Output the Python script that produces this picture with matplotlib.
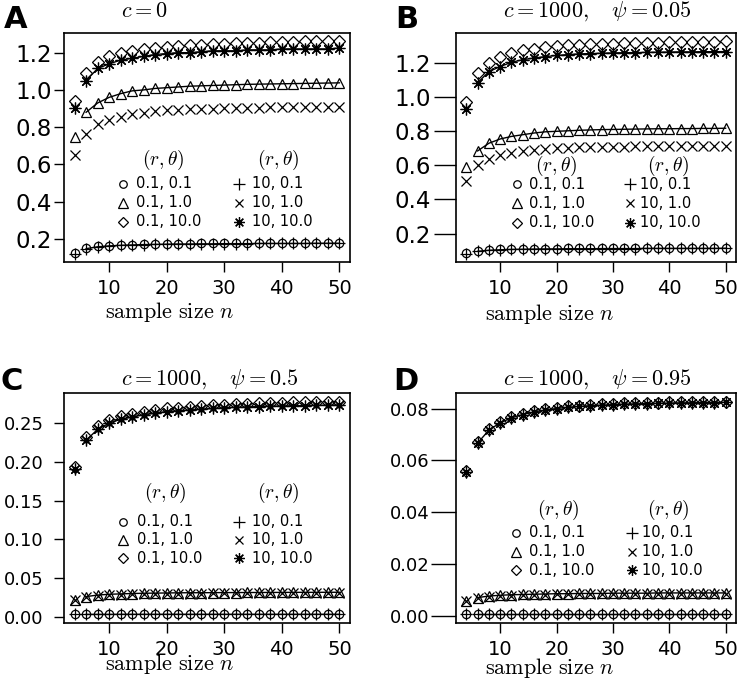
import matplotlib
matplotlib.use("Agg")
import matplotlib.pyplot as plt
import numpy as np

plt.rcParams['font.family'] = ['DejaVu Sans']
plt.rcParams['mathtext.fontset'] = 'cm'

# sample sizes
n = [4, 6, 8, 10, 12, 14, 16, 18, 20, 22, 24, 26, 28, 30, 32, 34, 36, 38, 40, 42, 44, 46, 48, 50]

# panel A  (c = 0)
a_circ = [0.125, 0.15, 0.16, 0.165, 0.168, 0.17, 0.172, 0.173, 0.174, 0.175, 0.175, 0.176,
          0.176, 0.177, 0.177, 0.177, 0.178, 0.178, 0.178, 0.178, 0.178, 0.179, 0.179, 0.179]
a_plus = [0.122, 0.148, 0.158, 0.163, 0.166, 0.168, 0.17, 0.171, 0.172, 0.173, 0.173, 0.174,
          0.174, 0.175, 0.175, 0.175, 0.176, 0.176, 0.176, 0.176, 0.176, 0.177, 0.177, 0.177]
a_tri = [0.75, 0.88, 0.93, 0.96, 0.98, 0.995, 1.0, 1.008, 1.012, 1.016, 1.02, 1.022,
         1.024, 1.026, 1.028, 1.03, 1.031, 1.032, 1.033, 1.034, 1.035, 1.036, 1.037, 1.038]
a_x = [0.65, 0.765, 0.815, 0.84, 0.857, 0.87, 0.878, 0.885, 0.89, 0.893, 0.896, 0.898,
       0.9, 0.902, 0.903, 0.904, 0.905, 0.906, 0.907, 0.908, 0.909, 0.91, 0.91, 0.911]
a_dia = [0.94, 1.09, 1.15, 1.18, 1.20, 1.21, 1.22, 1.225, 1.23, 1.235, 1.24, 1.24,
         1.245, 1.245, 1.25, 1.25, 1.25, 1.255, 1.255, 1.255, 1.26, 1.26, 1.26, 1.26]
a_star = [0.905, 1.05, 1.115, 1.14, 1.16, 1.17, 1.18, 1.19, 1.195, 1.20, 1.20, 1.205,
          1.21, 1.21, 1.21, 1.215, 1.215, 1.215, 1.22, 1.22, 1.22, 1.22, 1.22, 1.225]

# panel B  (c = 1000, psi = 0.05)
b_circ = [0.085, 0.098, 0.104, 0.107, 0.109, 0.11, 0.111, 0.112, 0.112, 0.113, 0.113, 0.113,
          0.114, 0.114, 0.114, 0.114, 0.115, 0.115, 0.115, 0.115, 0.115, 0.115, 0.115, 0.116]
b_plus = [0.083, 0.096, 0.102, 0.105, 0.107, 0.108, 0.109, 0.11, 0.11, 0.111, 0.111, 0.111,
          0.112, 0.112, 0.112, 0.112, 0.113, 0.113, 0.113, 0.113, 0.113, 0.113, 0.113, 0.114]
b_tri = [0.59, 0.685, 0.73, 0.755, 0.77, 0.78, 0.79, 0.797, 0.80, 0.803, 0.806, 0.808,
         0.81, 0.811, 0.812, 0.813, 0.814, 0.815, 0.815, 0.816, 0.816, 0.817, 0.817, 0.818]
b_x = [0.51, 0.605, 0.64, 0.66, 0.675, 0.685, 0.692, 0.697, 0.70, 0.703, 0.705, 0.707,
       0.708, 0.709, 0.71, 0.711, 0.712, 0.713, 0.713, 0.714, 0.714, 0.715, 0.715, 0.716]
b_dia = [0.97, 1.14, 1.20, 1.235, 1.26, 1.275, 1.285, 1.293, 1.30, 1.305, 1.308, 1.311,
         1.313, 1.315, 1.317, 1.319, 1.32, 1.321, 1.322, 1.323, 1.324, 1.325, 1.326, 1.327]
b_star = [0.93, 1.085, 1.15, 1.18, 1.205, 1.22, 1.23, 1.238, 1.245, 1.25, 1.254, 1.256,
          1.258, 1.26, 1.261, 1.262, 1.263, 1.264, 1.265, 1.266, 1.266, 1.267, 1.267, 1.268]

# panel C  (c = 1000, psi = 0.5)
c_circ = [0.0030, 0.0031, 0.0031, 0.0031, 0.0032, 0.0032, 0.0032, 0.0032, 0.0032, 0.0032, 0.0032, 0.0032,
          0.0032, 0.0032, 0.0032, 0.0032, 0.0032, 0.0032, 0.0032, 0.0032, 0.0032, 0.0032, 0.0032, 0.0032]
c_plus = [0.0029, 0.0030, 0.0030, 0.0030, 0.0031, 0.0031, 0.0031, 0.0031, 0.0031, 0.0031, 0.0031, 0.0031,
          0.0031, 0.0031, 0.0031, 0.0031, 0.0031, 0.0031, 0.0031, 0.0031, 0.0031, 0.0031, 0.0031, 0.0031]
c_tri = [0.022, 0.026, 0.028, 0.029, 0.0295, 0.030, 0.0303, 0.0305, 0.0307, 0.0309, 0.031, 0.031,
         0.0311, 0.0312, 0.0312, 0.0313, 0.0313, 0.0314, 0.0314, 0.0315, 0.0315, 0.0315, 0.0316, 0.0316]
c_x = [0.021, 0.025, 0.027, 0.028, 0.0285, 0.029, 0.0293, 0.0295, 0.0297, 0.0299, 0.030, 0.030,
       0.0301, 0.0302, 0.0302, 0.0303, 0.0303, 0.0304, 0.0304, 0.0305, 0.0305, 0.0305, 0.0306, 0.0306]
c_dia = [0.194, 0.232, 0.246, 0.254, 0.259, 0.262, 0.265, 0.267, 0.269, 0.270, 0.271, 0.272,
         0.273, 0.274, 0.2745, 0.275, 0.2755, 0.276, 0.2765, 0.277, 0.2772, 0.2775, 0.2778, 0.278]
c_star = [0.191, 0.228, 0.242, 0.25, 0.255, 0.258, 0.261, 0.263, 0.265, 0.266, 0.267, 0.268,
          0.269, 0.270, 0.2705, 0.271, 0.2715, 0.272, 0.2722, 0.2725, 0.2728, 0.273, 0.2733, 0.2735]

# panel D  (c = 1000, psi = 0.95)
d_circ = [0.0008, 0.0008, 0.0008, 0.0008, 0.0008, 0.0008, 0.0008, 0.0008, 0.0008, 0.0008, 0.0008, 0.0008,
          0.0008, 0.0008, 0.0008, 0.0008, 0.0008, 0.0008, 0.0008, 0.0008, 0.0008, 0.0008, 0.0008, 0.0008]
d_plus = [0.0007, 0.0008, 0.0008, 0.0008, 0.0008, 0.0008, 0.0008, 0.0008, 0.0008, 0.0008, 0.0008, 0.0008,
          0.0008, 0.0008, 0.0008, 0.0008, 0.0008, 0.0008, 0.0008, 0.0008, 0.0008, 0.0008, 0.0008, 0.0008]
d_tri = [0.0060, 0.0072, 0.0078, 0.0081, 0.0083, 0.0084, 0.0085, 0.0086, 0.0087, 0.0087, 0.0088, 0.0088,
         0.0088, 0.0089, 0.0089, 0.0089, 0.0089, 0.0090, 0.0090, 0.0090, 0.0090, 0.0090, 0.0090, 0.0090]
d_x = [0.0057, 0.0069, 0.0075, 0.0078, 0.0080, 0.0081, 0.0082, 0.0083, 0.0084, 0.0084, 0.0085, 0.0085,
       0.0085, 0.0086, 0.0086, 0.0086, 0.0086, 0.0087, 0.0087, 0.0087, 0.0087, 0.0087, 0.0087, 0.0087]
d_dia = [0.056, 0.067, 0.072, 0.0748, 0.0767, 0.078, 0.079, 0.0797, 0.0803, 0.0808, 0.0811, 0.0814,
         0.0816, 0.0818, 0.082, 0.0821, 0.0822, 0.0823, 0.0824, 0.0825, 0.0825, 0.0826, 0.0826, 0.0827]
d_star = [0.0557, 0.0667, 0.0717, 0.0745, 0.0764, 0.0777, 0.0787, 0.0794, 0.08, 0.0805, 0.0808, 0.0811,
          0.0813, 0.0815, 0.0817, 0.0818, 0.0819, 0.082, 0.0821, 0.0822, 0.0822, 0.0823, 0.0823, 0.0824]

legend_labels = ['0.1, 0.1', '0.1, 1.0', '0.1, 10.0', '10, 0.1', '10, 1.0', '10, 10.0']

W, H = 747, 690
ASTER = (8, 2, 0)   # R pch 8
# marker, size for: circle, triangle, diamond, plus, cross, asterisk
mk = [('o', 6.0), ('^', 7.5), ('D', 6.0), ('+', 9.0), ('x', 6.5), (ASTER, 8.5)]


def px_axes(fig, left, top, right, bottom):
    return fig.add_axes([left / W, 1 - bottom / H, (right - left) / W, (bottom - top) / H])


def px_text(fig, x, y, s, **kw):
    fig.text(x / W, 1 - y / H, s, **kw)


def draw_panel(fig, box, series, yticks, ylabels, ytick_style, leg):
    ax = px_axes(fig, *box)
    allv = np.concatenate([np.asarray(s) for s in series])
    lo, hi = allv.min(), allv.max()
    ax.set_ylim(lo - 0.04 * (hi - lo), hi + 0.04 * (hi - lo))
    ax.set_xlim(n[0] - 0.04 * (n[-1] - n[0]), n[-1] + 0.04 * (n[-1] - n[0]))

    # thin reference lines through the plus, triangle and asterisk series
    for k in (3, 1, 5):
        ax.plot(n[1:], series[k][1:], color='black', lw=1.0, zorder=1)
    # order: circle, triangle, diamond, plus, cross, asterisk
    for s, (m, ms) in zip(series, mk):
        ax.plot(n, s, ls='none', marker=m, ms=ms, mfc='none', mec='black', mew=0.9, zorder=2)

    ax.set_xticks([10, 20, 30, 40, 50])
    ax.set_xticklabels(['10', '20', '30', '40', '50'])
    ax.set_yticks(yticks)
    ax.set_yticklabels(ylabels)
    ysize, ylen, ypad = ytick_style
    ax.tick_params(axis='x', direction='out', length=7, width=1, labelsize=14, pad=5)
    ax.tick_params(axis='y', direction='out', length=ylen, width=1, labelsize=ysize, pad=ypad)
    for sp in ax.spines.values():
        sp.set_linewidth(1.2)

    # legend, two columns with (r, theta) headers
    hx1, hx2, hy, rows, mx1, tx1, mx2, tx2 = leg
    ax.text(hx1, hy, r'$(r,\theta)$', transform=ax.transAxes, ha='center', va='center', fontsize=14)
    ax.text(hx2, hy, r'$(r,\theta)$', transform=ax.transAxes, ha='center', va='center', fontsize=14)
    for i in range(3):
        m, ms = mk[i]
        ax.plot([mx1], [rows[i]], transform=ax.transAxes, ls='none', marker=m, ms=ms * 0.9,
                mfc='none', mec='black', mew=0.9, clip_on=False)
        ax.text(tx1, rows[i], legend_labels[i], transform=ax.transAxes, va='center', fontsize=10.5)
        m, ms = mk[i + 3]
        ax.plot([mx2], [rows[i]], transform=ax.transAxes, ls='none', marker=m, ms=ms * 0.9,
                mfc='none', mec='black', mew=0.9, clip_on=False)
        ax.text(tx2, rows[i], legend_labels[i + 3], transform=ax.transAxes, va='center', fontsize=10.5)
    return ax


fig = plt.figure(figsize=(W / 100, H / 100), dpi=100)

draw_panel(fig, (64, 33, 350, 262),
           [a_circ, a_tri, a_dia, a_plus, a_x, a_star],
           [0.2, 0.4, 0.6, 0.8, 1.0, 1.2], ['0.2', '0.4', '0.6', '0.8', '1.0', '1.2'],
           (16.5, 7, 1.5),
           (0.346, 0.748, 0.445, [0.341, 0.258, 0.175], 0.206, 0.252, 0.612, 0.657))
draw_panel(fig, (456, 33, 736, 262),
           [b_circ, b_tri, b_dia, b_plus, b_x, b_star],
           [0.2, 0.4, 0.6, 0.8, 1.0, 1.2], ['0.2', '0.4', '0.6', '0.8', '1.0', '1.2'],
           (16.5, 16, 2),
           (0.358, 0.757, 0.42, [0.339, 0.256, 0.172], 0.218, 0.262, 0.62, 0.658))
draw_panel(fig, (64, 393, 350, 623),
           [c_circ, c_tri, c_dia, c_plus, c_x, c_star],
           [0.0, 0.05, 0.10, 0.15, 0.20, 0.25], ['0.00', '0.05', '0.10', '0.15', '0.20', '0.25'],
           (13, 7, 7.5),
           (0.353, 0.748, 0.564, [0.44, 0.361, 0.281], 0.207, 0.254, 0.612, 0.657))
draw_panel(fig, (456, 393, 736, 623),
           [d_circ, d_tri, d_dia, d_plus, d_x, d_star],
           [0.0, 0.02, 0.04, 0.06, 0.08], ['0.00', '0.02', '0.04', '0.06', '0.08'],
           (13, 18, 1),
           (0.364, 0.757, 0.491, [0.393, 0.31, 0.23], 0.215, 0.262, 0.628, 0.666))

# titles
px_text(fig, 121, 17, r'$c = 0$', fontsize=16, va='baseline')
px_text(fig, 503, 17, r'$c = 1000, \quad \psi = 0.05$', fontsize=16, va='baseline')
px_text(fig, 121, 385, r'$c = 1000, \quad \psi = 0.5$', fontsize=16, va='baseline')
px_text(fig, 503, 385, r'$c = 1000, \quad \psi = 0.95$', fontsize=16, va='baseline')

# x labels
xl = r'$\mathrm{sample\ size}\ n$'
px_text(fig, 105, 318, xl, fontsize=16, va='baseline')
px_text(fig, 485, 320, xl, fontsize=16, va='baseline')
px_text(fig, 105, 670, xl, fontsize=16, va='baseline')
px_text(fig, 485, 674, xl, fontsize=16, va='baseline')

# panel letters
for lx, ly, s in [(4, 28, 'A'), (395, 28, 'B'), (0, 390, 'C'), (393, 390, 'D')]:
    px_text(fig, lx, ly, s, fontsize=22, fontweight='bold', va='baseline')

fig.savefig('out.png', dpi=100)
